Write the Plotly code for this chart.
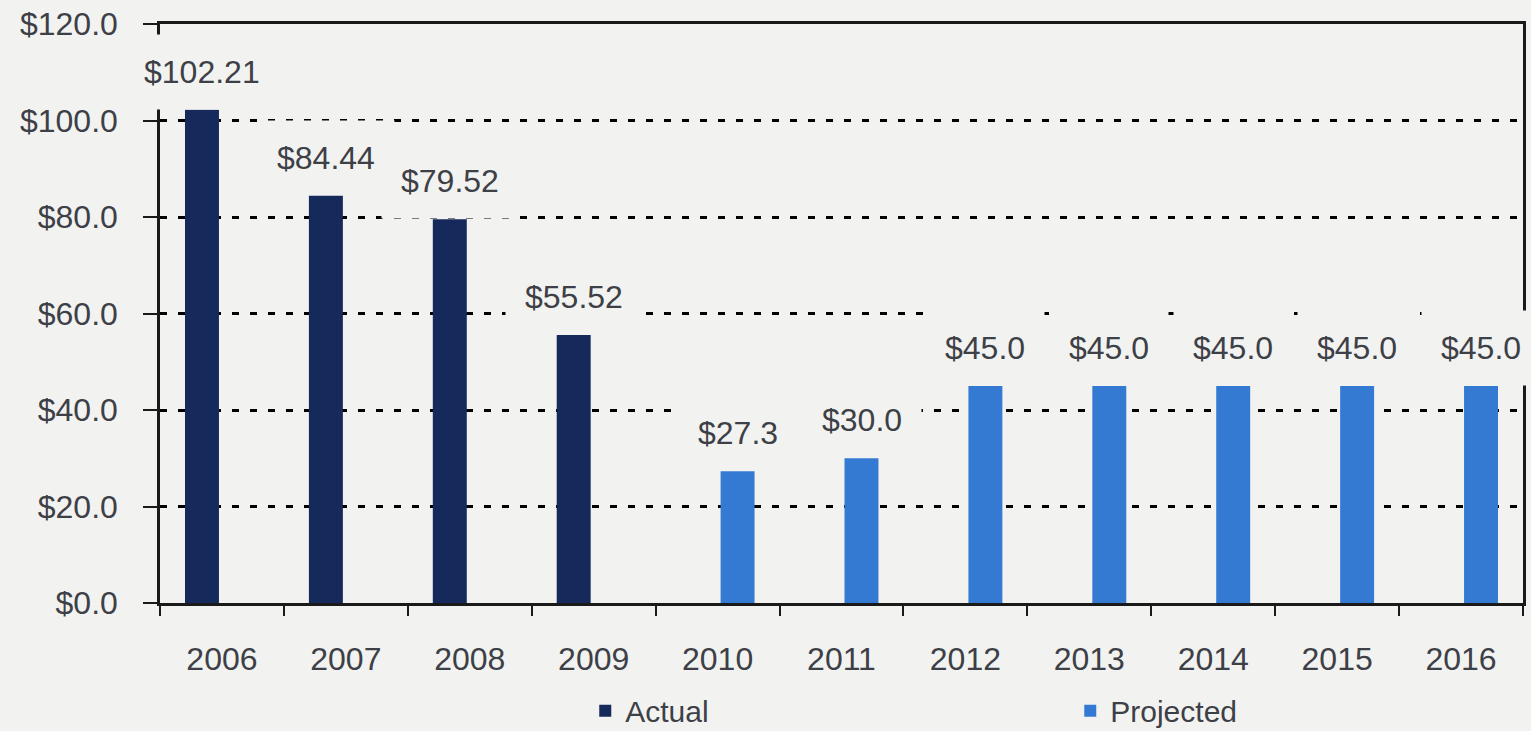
import plotly.graph_objects as go

years = ["2006", "2007", "2008", "2009", "2010", "2011", "2012", "2013", "2014", "2015", "2016"]
actual = [102.21, 84.44, 79.52, 55.52, None, None, None, None, None, None, None]
projected = [None, None, None, None, 27.3, 30.0, 45.0, 45.0, 45.0, 45.0, 45.0]
actual_labels = ["$102.21", "$84.44", "$79.52", "$55.52"]
projected_labels = ["$27.3", "$30.0", "$45.0", "$45.0", "$45.0", "$45.0", "$45.0"]

BG = "#f2f3f1"
TXT = "#3d4046"
FONT = "Liberation Sans, Arial, sans-serif"
C_ACT = "#152a5a"
C_PROJ = "#357ad2"

fig = go.Figure()
fig.add_trace(go.Bar(name="Actual", x=years, y=actual, marker=dict(color=C_ACT, line=dict(width=0))))
fig.add_trace(go.Bar(name="Projected", x=years, y=projected, marker=dict(color=C_PROJ, line=dict(width=0))))

annotations = []
ai = 0
for i, v in enumerate(actual):
    if v is not None:
        annotations.append(dict(x=i, y=v, text=actual_labels[ai], xshift=-20, yshift=38,
                                showarrow=False, yanchor="middle", bgcolor=BG, borderpad=19,
                                font=dict(size=32, color=TXT, family=FONT)))
        ai += 1
pi = 0
for i, v in enumerate(projected):
    if v is not None:
        annotations.append(dict(x=i, y=v, text=projected_labels[pi], xshift=20, yshift=38,
                                showarrow=False, yanchor="middle", bgcolor=BG, borderpad=19,
                                font=dict(size=32, color=TXT, family=FONT)))
        pi += 1

fig.update_layout(
    width=1531, height=731,
    margin=dict(l=160, r=8, t=24, b=128, autoexpand=False),
    paper_bgcolor=BG, plot_bgcolor=BG,
    barmode="group", bargap=0.355, bargroupgap=0.15,
    font=dict(family=FONT, size=32, color=TXT),
    annotations=annotations,
    legend=dict(orientation="h", x=0.312, y=-0.186, xanchor="left", yanchor="middle",
                entrywidth=440, entrywidthmode="pixels", font=dict(size=30, color=TXT),
                bgcolor="rgba(0,0,0,0)", itemclick=False),
    showlegend=True,
)
fig.update_xaxes(
    type="category", range=[-0.5, len(years) - 0.5], autorange=False,
    showline=True, linecolor="#1a1a1a", linewidth=2.5, mirror=True,
    ticks="outside", tickson="boundaries", ticklen=10, tickwidth=2, tickcolor="#1a1a1a",
    showgrid=False, ticklabelstandoff=26, tickangle=0, tickfont=dict(size=32, color=TXT),
)
fig.update_yaxes(
    range=[0, 120], autorange=False, dtick=20, tickprefix="$", tickformat=".1f",
    showline=True, linecolor="#1a1a1a", linewidth=2.5, mirror=True,
    ticks="outside", ticklen=14, tickwidth=2, tickcolor="#1a1a1a",
    showgrid=True, gridcolor="#000000", gridwidth=3, griddash="7px,11px",
    zeroline=False, ticklabelstandoff=19, tickfont=dict(size=32, color=TXT),
)

fig.write_html("out.html")
